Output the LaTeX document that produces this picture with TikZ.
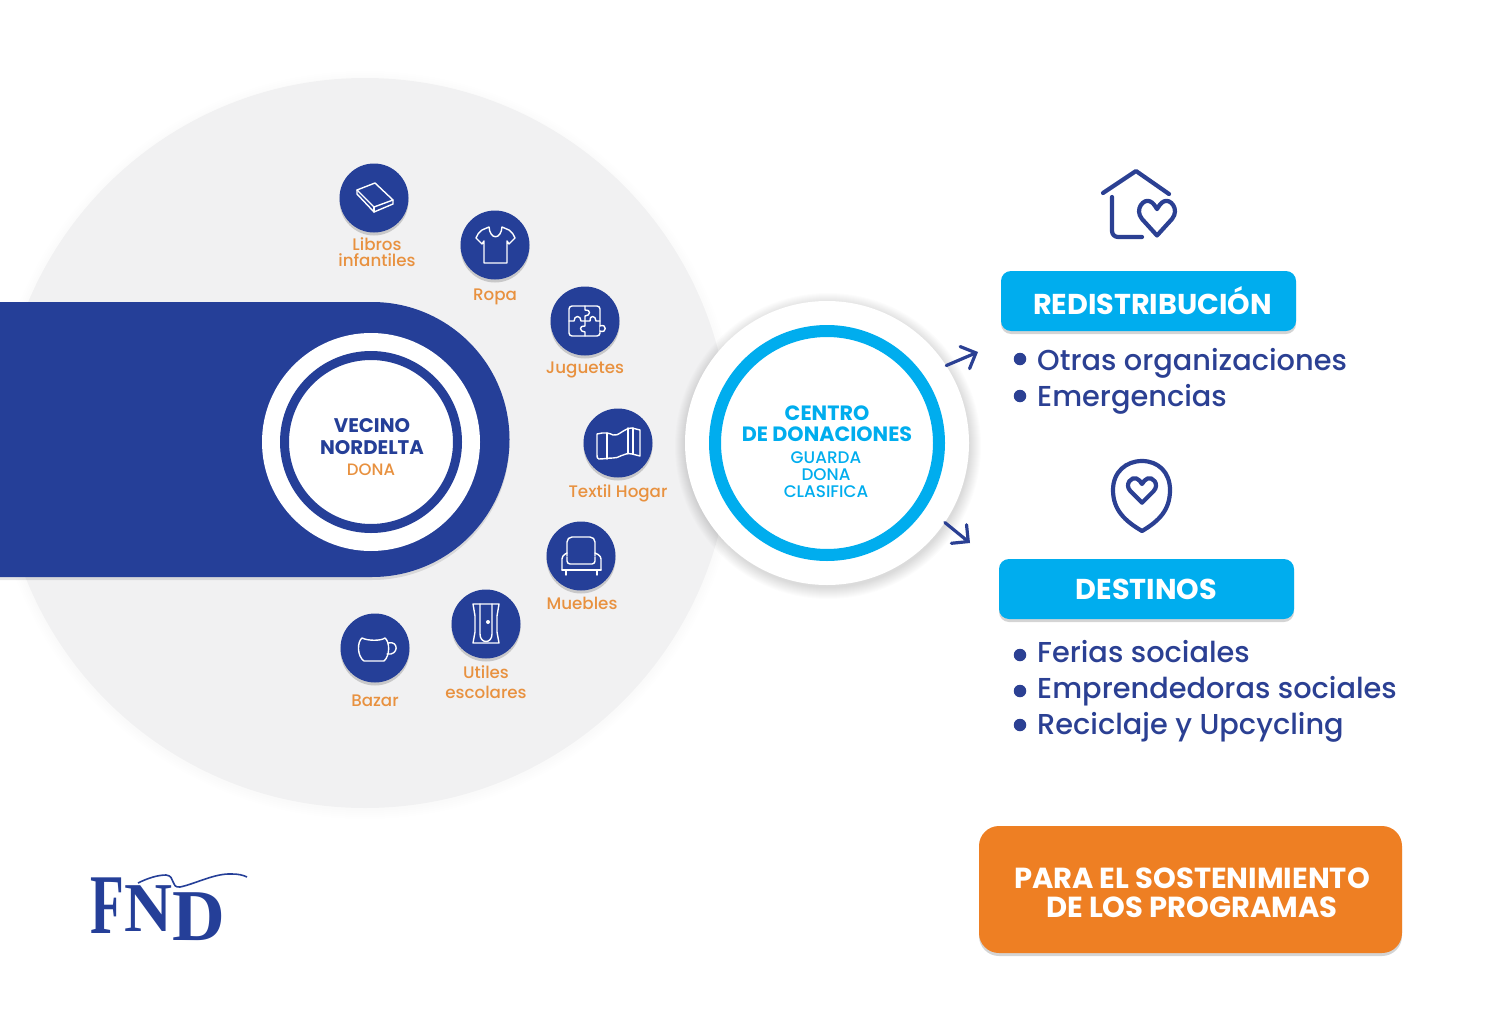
\documentclass[tikz,border=0pt]{standalone}
\usepackage{fontspec}
\setmainfont{Poppins}
\newfontfamily\medfont{Poppins Medium}
\newfontfamily\logofont{Liberation Serif}
\usepackage{xcolor}
\usetikzlibrary{arrows.meta,shadows}
\definecolor{fndblue}{HTML}{253F98}
\definecolor{navy}{HTML}{2B4093}
\definecolor{celeste}{HTML}{00ADEE}
\definecolor{naranja}{HTML}{EE7F23}
\definecolor{etiqueta}{HTML}{E8913F}
\definecolor{fondo}{HTML}{F1F1F2}
\tikzset{
  softdrop/.style={drop shadow={shadow xshift=0pt,shadow yshift=-3pt,opacity=.17,fill=black}},
  iconbg/.style={circle,fill=fndblue,minimum size=69pt,inner sep=0pt,softdrop},
  iconline/.style={draw=white,line width=1.4pt,line join=round,line cap=round},
  label/.style={text=etiqueta,font=\medfont\fontsize{16.7}{19}\selectfont,align=center,inner sep=0pt},
  titlebox/.style={fill=celeste,rounded corners=10pt,minimum width=295pt,minimum height=60pt,inner sep=0pt,
    text height=20pt,text depth=0pt,text=white,font=\fontsize{28.7}{32}\selectfont\bfseries,softdrop},
  listitem/.style={text=navy,font=\medfont\fontsize{28.8}{32}\selectfont,anchor=base west,inner sep=0pt},
  dot/.style={circle,fill=navy,minimum size=12.5pt,inner sep=0pt},
  outline/.style={draw=navy,line width=4.2pt,line cap=round,line join=round},
  heart/.pic={
    \draw[outline] (0,15) -- (-15,0) .. controls (-23,-9) and (-13,-19) .. (-7,-16)
      .. controls (-4,-15) and (-2,-12) .. (0,-9) .. controls (2,-12) and (4,-15) .. (7,-16)
      .. controls (13,-19) and (23,-9) .. (15,0) -- cycle;
  }
}

\begin{document}
\begin{tikzpicture}[x=1pt,y=-1pt]
  \useasboundingbox (0,0) rectangle (1512,1022);

  % fondo
  \foreach \r in {366,368,370,372,374}
    \fill[black,opacity=.004] (365,445) circle (\r);
  \fill[fondo] (365,443) circle (365);

  % banda y vecino
  \fill[fndblue,drop shadow={shadow xshift=0pt,shadow yshift=-3pt,opacity=.1,fill=black}]
    (0,302) -- (372,302) arc[start angle=-90,end angle=90,radius=137.5] -- (0,577) -- cycle;
  \node[circle,fill=white,minimum size=218pt,inner sep=0pt] (vecinofondo) at (371,442) {};
  \node[circle,draw=fndblue,line width=9pt,minimum size=173pt,inner sep=0pt] (vecinoaro) at (371,442) {};
  \node[align=center,inner sep=0pt,text=fndblue,font=\fontsize{19.7}{22}\selectfont\bfseries] (vecino) at (372,437) {VECINO\\NORDELTA};
  \node[text=etiqueta,inner sep=0pt,font=\medfont\fontsize{16.5}{19}\selectfont] (dona) at (371,470) {DONA};

  % iconos
  \node[iconbg] (libros) at (374,198) {};
  \node[iconbg] (ropa) at (495,245) {};
  \node[iconbg] (juguetes) at (585,321) {};
  \node[iconbg] (textil) at (618,443) {};
  \node[iconbg] (muebles) at (581,556) {};
  \node[iconbg] (utiles) at (486,624) {};
  \node[iconbg] (bazar) at (375,648) {};

  \node[label] (librostxt) at (377,252) {Libros\\[-3pt]infantiles};
  \node[label,anchor=base] (ropatxt) at (495,300) {Ropa};
  \node[label,anchor=base] (juguetestxt) at (585,373) {Juguetes};
  \node[label,anchor=base] (textiltxt) at (618,497) {Textil Hogar};
  \node[label,anchor=base] (mueblestxt) at (582,609) {Muebles};
  \node[label] (utilestxt) at (486,682) {Utiles\\[1pt]escolares};
  \node[label,anchor=base] (bazartxt) at (375,706) {Bazar};

  \begin{scope}[shift={(libros)}]
    \draw[iconline] (-17,-8) -- (1,-15) -- (19,2) -- (0,9) -- cycle;
    \draw[iconline] (-17,-8) -- (-17,-4) -- (0,14) -- (19,6) -- (19,2);
    \draw[iconline] (0,9) -- (0,14);
  \end{scope}

  \begin{scope}[shift={(ropa)}]
    \draw[iconline] (-6,-18) -- (-13,-15) .. controls (-16,-13) and (-18,-10) .. (-19,-7) -- (-13,-1)
      -- (-11,-4) -- (-11,18) -- (12,18) -- (12,-4) -- (14,-1) -- (20,-7)
      .. controls (19,-10) and (17,-13) .. (14,-15) -- (7,-18)
      .. controls (6,-5) and (-5,-5) .. (-6,-18) -- cycle;
  \end{scope}

  \begin{scope}[shift={(juguetes)}]
    \draw[iconline,rounded corners=3pt] (-16,-15) rectangle (15,15);
    \draw[iconline] (0,-15) -- (0,-11) .. controls (6,-12) and (6,-5) .. (0,-5) -- (0,5)
      .. controls (-6,4) and (-6,11) .. (0,11) -- (0,15);
    \draw[iconline] (-16,0) -- (-11,0) .. controls (-11,-6) and (-4,-6) .. (-4,0) -- (5,0)
      .. controls (4,-6) and (11,-6) .. (11,0) -- (15,0);
    \draw[iconline,fill=fndblue] (15,5) .. controls (22,2) and (22,13) .. (15,10);
  \end{scope}

  \begin{scope}[shift={(textil)}]
    \draw[iconline] (-21,-9) .. controls (-14,-11) and (-8,-10) .. (-5,-8)
      .. controls (0,-6) and (6,-15) .. (14,-15) -- (22,-13) -- (22,13) -- (14,11)
      .. controls (6,9) and (0,16) .. (-5,15) .. controls (-10,15) and (-14,16) .. (-19,16)
      .. controls (-21,16) and (-21,14) .. (-21,12) -- cycle;
    \draw[iconline] (-11,-10) -- (-11,16);
    \draw[iconline] (10,-15) -- (10,10);
    \draw[iconline] (15,-15) -- (15,11);
  \end{scope}

  \begin{scope}[shift={(muebles)}]
    \draw[iconline,rounded corners=5pt] (-14,0) -- (-14,-19) -- (14,-19) -- (14,0);
    \draw[iconline,rounded corners=3pt] (-14,1) -- (-14,8) -- (14,8) -- (14,1);
    \draw[iconline,rounded corners=3pt] (-19,14) -- (-19,0) -- (-14,-3);
    \draw[iconline,rounded corners=3pt] (20,14) -- (20,0) -- (14,-3);
    \draw[iconline] (-19,14) -- (20,14);
    \draw[iconline] (-15,14) -- (-15,19);
    \draw[iconline] (16,14) -- (16,19);
  \end{scope}

  \begin{scope}[shift={(utiles)}]
    \draw[iconline] (-13,-20) -- (13,-20) -- (11,-8) -- (11,8) -- (13,19) -- (-13,19) -- (-11,8) -- (-11,-8) -- cycle;
    \draw[iconline] (-6,-20) -- (-6,10) .. controls (-6,20) and (6,20) .. (6,10) -- (6,-20);
    \fill[white] (2,-2) circle (2);
  \end{scope}

  \begin{scope}[shift={(bazar)}]
    \draw[iconline] (-13,-10) .. controls (-7,-7) and (6,-7) .. (10,-10)
      .. controls (15,-6) and (15,8) .. (9,13) -- (-11,13)
      .. controls (-18,8) and (-18,-6) .. (-13,-10) -- cycle;
    \draw[iconline] (13,-5) .. controls (24,-8) and (24,8) .. (12,6);
  \end{scope}

  % centro
  \foreach \r in {142,143,...,153}
    \fill[black,opacity=.012] (828,446) circle (\r);
  \node[circle,fill=white,minimum size=284pt,inner sep=0pt] (centro) at (827,443) {};
  \node[circle,draw=celeste,line width=12pt,minimum size=224pt,inner sep=0pt] (centroaro) at (827,443) {};
  \node[align=center,inner sep=0pt,text=celeste,font=\fontsize{20.7}{21}\selectfont\bfseries] (centrotxt) at (827,424) {CENTRO\\DE DONACIONES};
  \node[align=center,inner sep=0pt,text=celeste,font=\medfont\fontsize{16.8}{17}\selectfont] (guarda) at (826,475) {GUARDA\\DONA\\CLASIFICA};

  % flechas
  \coordinate (fin1) at (978,352);
  \coordinate (fin2) at (970,543);
  \draw[navy,line width=3.2pt,line cap=round,-{Straight Barb[length=12pt,width=24pt,line cap=round]}] (centro.33) -- (fin1);
  \draw[navy,line width=3.2pt,line cap=round,-{Straight Barb[length=12pt,width=24pt,line cap=round]}] (centro.-34) -- (fin2);

  % casa
  \draw[outline] (1103,193) -- (1136,171) -- (1169,194);
  \draw[outline,rounded corners=6pt] (1112,197) -- (1112,237) -- (1142,237);
  \pic[yscale=1.1] at (1157,219) {heart};

  % pin
  \draw[outline] (1142,531) .. controls (1125,521) and (1113,510) .. (1113,490)
    .. controls (1113,472) and (1126,461) .. (1142,461) .. controls (1158,461) and (1170,472) .. (1170,490)
    .. controls (1170,510) and (1159,521) .. (1142,531) -- cycle;
  \pic[scale=.78] at (1142,491) {heart};

  % cajas
  \node[titlebox] (redistribucion) at (1148.5,301) {};
  \node[inner sep=0pt,text=white,font=\fontsize{28.7}{32}\selectfont\bfseries] (redistribuciontxt) at (1152.5,301) {REDISTRIBUCIÓN};
  \node[titlebox] (destinos) at (1146.5,589) {DESTINOS};

  \foreach \n/\y/\by/\t in {a/359/370/Otras organizaciones,b/396/406/Emergencias,c/655/662/Ferias sociales,d/691/698/Emprendedoras sociales,e/725/734/Reciclaje y Upcycling}{
    \node[dot] (dot\n) at (1020,\y) {};
    \node[listitem] (item\n) at (1037,\by) {\t};
  }

  % programas
  \node[fill=naranja,rounded corners=20pt,minimum width=423pt,minimum height=127pt,inner sep=0pt,softdrop] (programas) at (1190.5,889.5) {};
  \node[inner sep=0pt,align=center,text=white,font=\fontsize{29}{29}\selectfont\bfseries] (programastxt) at (1192,893) {PARA EL SOSTENIMIENTO\\DE LOS PROGRAMAS};

  % logo
  \node[inner sep=0pt,anchor=base west,xscale=.65,text=fndblue,font=\logofont\bfseries\fontsize{85}{85}\selectfont] (logof) at (90,933) {F};
  \node[inner sep=0pt,anchor=base west,xscale=.95,text=fndblue,font=\logofont\bfseries\fontsize{70}{70}\selectfont] (logon) at (124,931) {N};
  \node[inner sep=0pt,anchor=base west,text=fndblue,font=\logofont\bfseries\fontsize{73}{73}\selectfont] (logod) at (172,940) {D};
  \draw[fndblue,line width=1.6pt] (138,883) .. controls (148,878) and (158,875) .. (166,875)
    .. controls (176,876) and (170,888) .. (180,887) .. controls (195,884) and (215,873) .. (232,874)
    .. controls (238,874) and (243,875) .. (247,877);
\end{tikzpicture}
\end{document}
